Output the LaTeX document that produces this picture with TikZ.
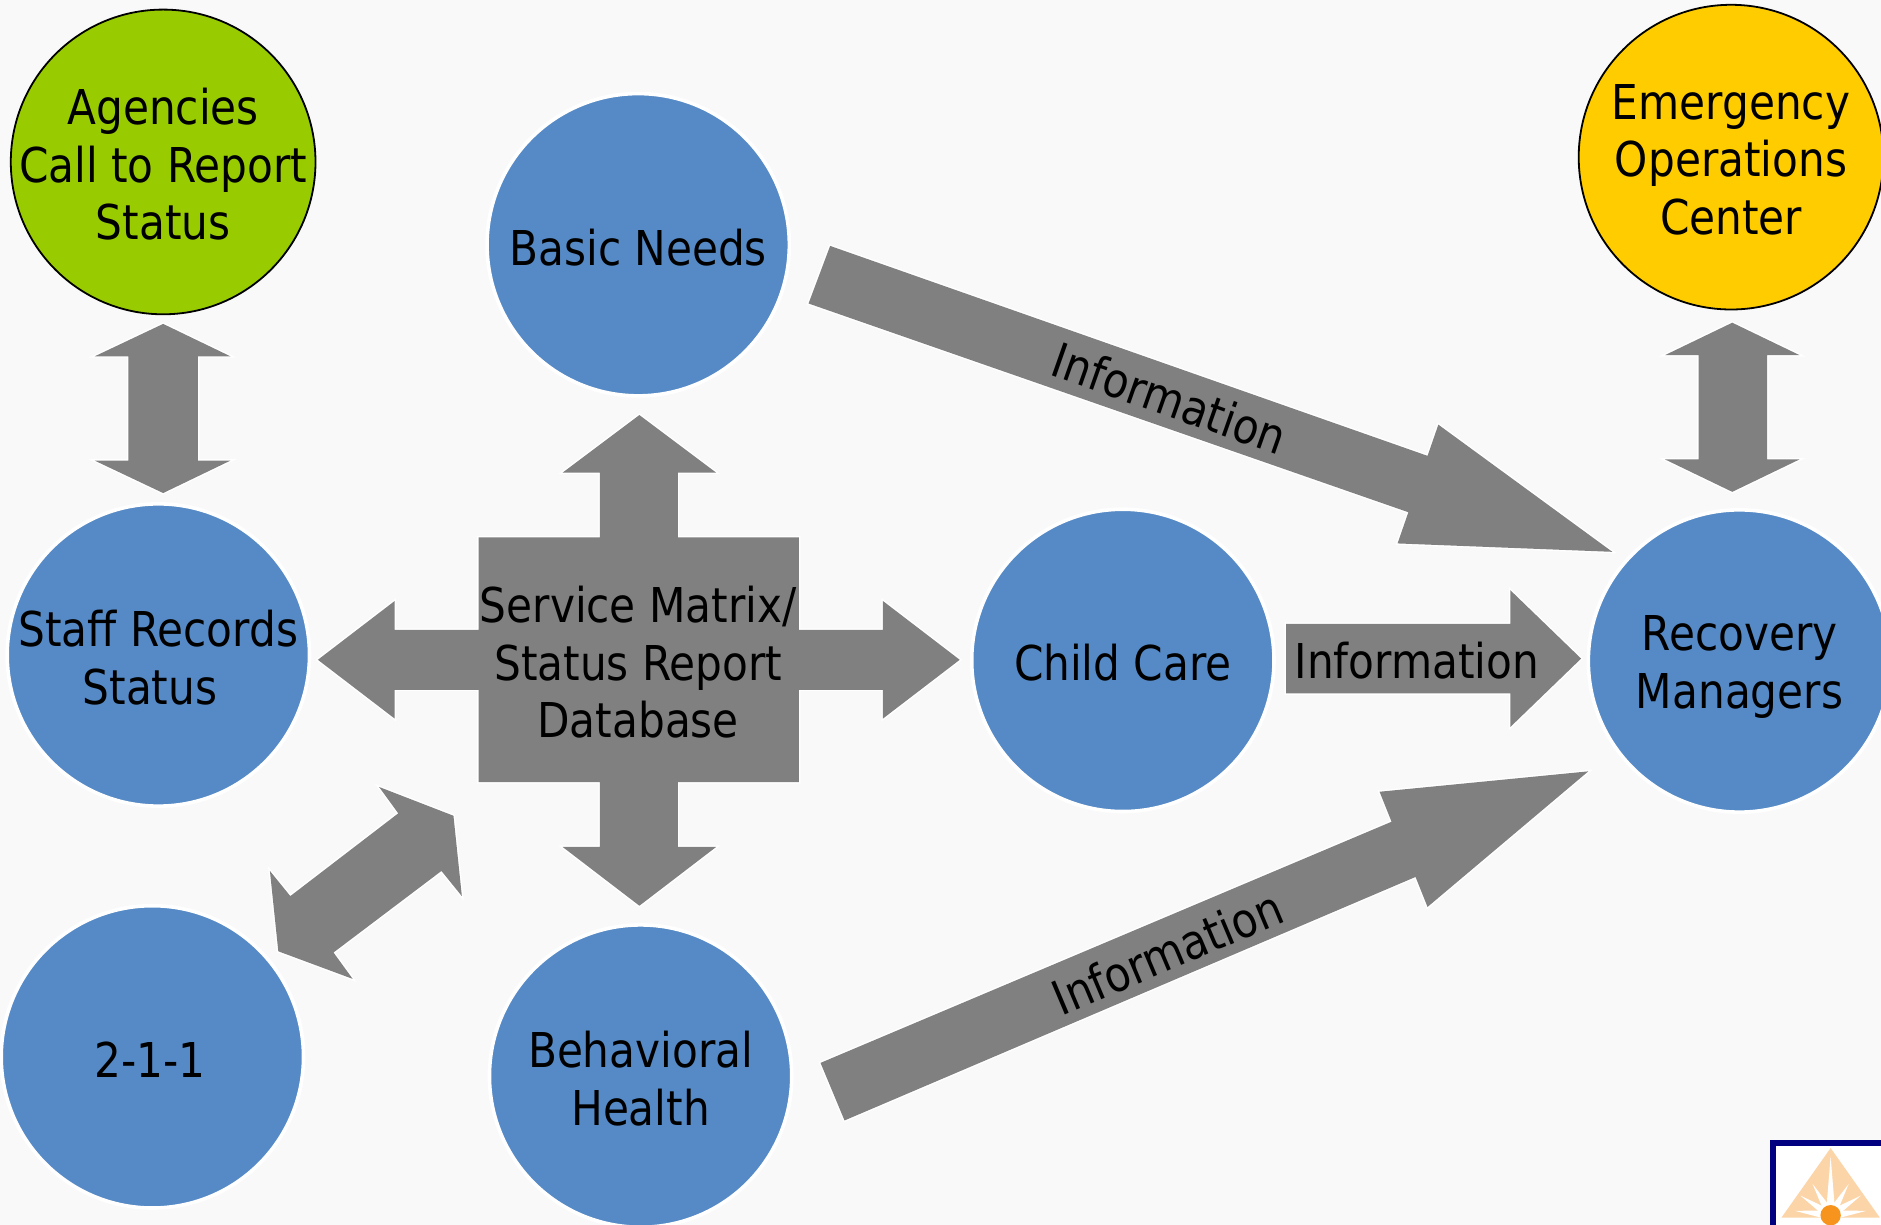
\documentclass[tikz,border=0pt]{standalone}
\usepackage{fontspec}
\usetikzlibrary{calc}
\setmainfont[FakeStretch=0.88]{DejaVu Sans}
\definecolor{bgc}{HTML}{F9F9F9}
\definecolor{bluec}{HTML}{558AC6}
\definecolor{grayc}{HTML}{808080}
\definecolor{greenc}{HTML}{99CC00}
\definecolor{yellowc}{HTML}{FFCC00}
\definecolor{navyc}{HTML}{000080}
\definecolor{peachc}{HTML}{FBD5A8}
\definecolor{sunc}{HTML}{F7941E}
\tikzset{
  ball/.style={circle,draw=white,line width=3pt,fill=bluec,minimum size=252pt,inner sep=0pt,outer sep=0pt},
  ringball/.style={circle,draw=black,line width=1.5pt,minimum size=254pt,inner sep=0pt,outer sep=0pt},
  lbl/.style={align=center,inner sep=0pt,text=black,font=\fontsize{40}{48}\selectfont},
  blockarrow/.style={preaction={draw=white,line width=2.4pt,line join=miter},fill=grayc}
}
\begin{document}
\begin{tikzpicture}[x=1pt,y=-1pt]
\useasboundingbox (0,0) rectangle (1568,1021.15);
\begin{scope}
\clip (0,0) rectangle (1568,1021.15);
\fill[bgc] (0,0) rectangle (1568,1021.15);
% circles
\node[ringball,fill=greenc] (agencies) at (136,135) {};
\node[ringball,fill=yellowc] (eoc) at (1443,131) {};
\node[ball] (basic) at (532,204) {};
\node[ball] (staff) at (132,546) {};
\node[ball] (child) at (936,550.5) {};
\node[ball] (recovery) at (1450,551) {};
\node[ball] (twoone) at (127,881) {};
\node[ball] (behav) at (534,897) {};
% centre cross
\path[blockarrow] (399,448) -- (500,448) -- (500,394) -- (469,394) -- (533,346) -- (597,394) -- (565,394) -- (565,448) -- (666,448) -- (666,525) -- (736,525) -- (736,501) -- (800,550) -- (736,599) -- (736,575) -- (666,575) -- (666,652) -- (565,652) -- (565,706) -- (597,706) -- (533,755) -- (469,706) -- (500,706) -- (500,652) -- (399,652) -- (399,575) -- (329,575) -- (329,599) -- (265,550) -- (329,501) -- (329,525) -- (399,525) -- cycle;
% vertical double arrows
\path[blockarrow] (136,270) -- (192,297) -- (165,297) -- (165,384) -- (192,384) -- (136,411) -- (79,384) -- (107,384) -- (107,297) -- (79,297) -- cycle;
\path[blockarrow] (1444,269) -- (1500,296) -- (1473,296) -- (1473,383) -- (1500,383) -- (1444,410) -- (1388,383) -- (1416,383) -- (1416,296) -- (1388,296) -- cycle;
% diagonal double arrow
\path[blockarrow] (316,656) -- (378,680) -- (385,747) -- (368,726) -- (278,794) -- (294,816) -- (232,793) -- (225,726) -- (242,747) -- (332,678) -- cycle;
% information arrows
\path[blockarrow] (692,205) -- (1190,380) -- (1199,354) -- (1344,460) -- (1165,453) -- (1174,427) -- (674,253) -- cycle;
\path[blockarrow] (1072,520) -- (1259,520) -- (1259,492) -- (1318,549) -- (1259,606) -- (1259,578) -- (1072,578) -- cycle;
\path[blockarrow] (684,886) -- (1160,685) -- (1150,660) -- (1324,643) -- (1190,756) -- (1180,731) -- (704,934) -- cycle;
% labels
\node[lbl] (tagencies) at (136,137) {Agencies\\Call to Report\\Status};
\node[lbl] (teoc) at (1443,133) {Emergency\\Operations\\Center};
\node[lbl] (tbasic) at (532,206) {Basic Needs};
\node[lbl] (tstaff) at (132,548) {Staff Records\\Status\hspace*{14pt}};
\node[lbl] (tchild) at (936,552) {Child Care};
\node[lbl] (trecovery) at (1450,556) {Recovery\\Managers};
\node[lbl] (ttwoone) at (125,883) {2-1-1};
\node[lbl] (tbehav) at (534,899) {Behavioral\\Health};
\node[lbl] (tmatrix) at (532,552) {Service Matrix/\\Status Report\\Database};
\node[lbl,rotate=-19.4] (info1) at (975,332) {Information};
\node[lbl] (info2) at (1181,551) {Information};
\node[lbl,rotate=22.9] (info3) at (973,794) {Information};
% logo
\fill[navyc] (1475.5,950.5) rectangle (1600,1030);
\fill[white] (1480.5,955.5) rectangle (1600,1030);
\fill[peachc] (1526,957) -- (1567,1015) -- (1485,1015) -- cycle;
\foreach \a/\l in {90/49,120/30,147/30,173/30,60/30,33/30,7/30}{
  \fill[white] ($(1526,1013)+(-\a+90:4)$) -- ($(1526,1013)+(-\a-90:4)$) -- ($(1526,1013)+(-\a:\l)$) -- cycle;
}
\fill[sunc] (1526,1013) circle (8.5);
\end{scope}
\end{tikzpicture}
\end{document}
